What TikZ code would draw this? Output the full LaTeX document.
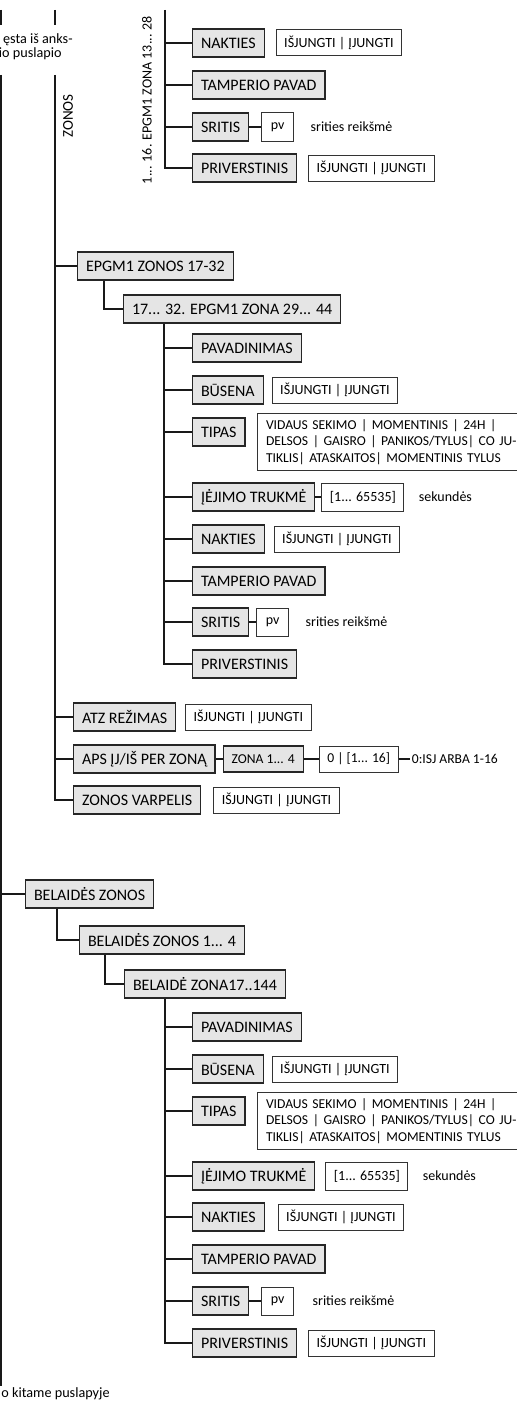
\documentclass[tikz,border=0pt]{standalone}
\usepackage{fontspec}
\setmainfont{Carlito}
\usetikzlibrary{positioning}
\newcommand\boxfnt{\fontsize{8}{9.6}\selectfont}
\newcommand\valfnt{\fontsize{7}{8.4}\selectfont}
\newcommand\optfnt{\fontsize{6.8}{8.3}\selectfont}
\newcommand\smlfnt{\fontsize{6.8}{8}\selectfont}
\newcommand\optline[1]{\makebox[121pt][s]{#1}}
\tikzset{
  menu/.style={draw=black!85,fill=black!10,line width=.6pt,minimum height=14pt,inner xsep=4.2pt,inner ysep=1pt,font=\boxfnt,anchor=west},
  val/.style={draw=black!80,line width=.5pt,minimum height=13pt,inner xsep=4pt,inner ysep=1pt,font=\valfnt,anchor=west},
  opts/.style={draw=black!80,line width=.5pt,text width=121pt,inner xsep=4.5pt,inner ysep=3pt,align=left,font=\optfnt,anchor=west},
  note/.style={inner sep=1pt,font=\valfnt},
  link/.style={line width=.65pt,draw=black!90},
}

\begin{document}
\begin{tikzpicture}[x=.5pt,y=-.5pt]
\useasboundingbox (0,0) rectangle (516,1402);
\coordinate (mTop) at (1,10);
\coordinate (mCut) at (1,25);
\coordinate (mRes) at (1,75);
\coordinate (mEnd) at (1,1386);
\coordinate (zTop) at (55,10);
\coordinate (zCut) at (55,25);
\coordinate (zRes) at (55,75);
\coordinate (aTop) at (165,10);
\node[note,anchor=east,font=\fontsize{7.1}{9}\selectfont] (contA) at (75,40) {ęsta iš anks-};
\node[note,anchor=east,font=\fontsize{7.1}{9}\selectfont] (contB) at (64,54) {io puslapio};
\node[note,anchor=base west,inner sep=0pt,font=\fontsize{7.1}{9}\selectfont] (contC) at (1,1397) {o kitame puslapyje};
\node[note,rotate=90,font=\fontsize{7.5}{9}\selectfont] (lblZon) at (68,116) {ZONOS};
\node[note,rotate=90] (lblA) at (147,100) {1... 16. EPGM1 ZONA 13... 28};

\node[menu] (nakA) at (192,43) {NAKTIES};
\node[val,right=5.5pt of nakA] (nakvA) {IŠJUNGTI | ĮJUNGTI};
\node[menu] (tamA) at (192,85) {TAMPERIO PAVAD};
\node[menu] (sriA) at (192,127) {SRITIS};
\node[val,right=6pt of sriA,minimum width=16pt,minimum height=14pt] (srivA) {pv};
\node[note,right=7pt of srivA] (sritA) {srities reikšmė};
\node[menu] (priA) at (192,168) {PRIVERSTINIS};
\node[val,right=5.5pt of priA] (privA) {IŠJUNGTI | ĮJUNGTI};

\node[menu] (epgB) at (77,266) {EPGM1 ZONOS 17-32};
\node[menu] (zonB) at (123,309) {17... 32. EPGM1 ZONA 29... 44};
\coordinate (bTop) at ([xshift=20.5pt]zonB.south west);
\node[menu] (pavB) at (192,348) {PAVADINIMAS};
\node[menu] (busB) at (192,390) {BŪSENA};
\node[val,right=4pt of busB] (busvB) {IŠJUNGTI | ĮJUNGTI};
\node[menu] (tipB) at (192,432) {TIPAS};
\node[opts,right=5.5pt of tipB,yshift=-5pt] (tipvB) {\optline{VIDAUS SEKIMO | MOMENTINIS | 24H |}\\\optline{DELSOS | GAISRO | PANIKOS/TYLUS| CO JU-}\\\optline{TIKLIS| ATASKAITOS| MOMENTINIS TYLUS}};
\node[menu] (iejB) at (192,497) {ĮĖJIMO TRUKMĖ};
\node[val,right=3pt of iejB,minimum height=14pt] (iejvB) {[1... 65535]};
\node[note,right=6pt of iejvB] (sekB) {sekundės};
\node[menu] (nakB) at (192,539) {NAKTIES};
\node[val,right=4.5pt of nakB] (nakvB) {IŠJUNGTI | ĮJUNGTI};
\node[menu] (tamB) at (192,581) {TAMPERIO PAVAD};
\node[menu] (sriB) at (192,622) {SRITIS};
\node[val,right=3.5pt of sriB,minimum width=16pt,minimum height=14pt] (srivB) {pv};
\node[note,right=7pt of srivB] (sritB) {srities reikšmė};
\node[menu] (priB) at (192,664) {PRIVERSTINIS};
\node[menu] (atzB) at (73,717) {ATZ REŽIMAS};
\node[val,right=4.5pt of atzB] (atzvB) {IŠJUNGTI | ĮJUNGTI};
\node[menu] (apsB) at (73,759) {APS ĮJ/IŠ PER ZONĄ};
\node[menu,font=\smlfnt,minimum height=13pt,right=3.5pt of apsB] (apszB) {ZONA 1... 4};
\node[val,font=\smlfnt,right=7.5pt of apszB] (apsvB) {0 | [1... 16]};
\node[note,font=\smlfnt,right=5.5pt of apsvB] (apstB) {0:ISJ ARBA 1-16};
\node[menu] (zvB) at (73,800) {ZONOS VARPELIS};
\node[val,right=6pt of zvB] (zvvB) {IŠJUNGTI | ĮJUNGTI};

\node[menu] (bzC) at (25,894) {BELAIDĖS ZONOS};
\node[menu] (bz14C) at (79,940) {BELAIDĖS ZONOS 1... 4};
\node[menu] (bz17C) at (124,984) {BELAIDĖ ZONA17..144};
\coordinate (cTop) at ([xshift=20.5pt]bz17C.south west);
\node[menu] (pavC) at (192,1027) {PAVADINIMAS};
\node[menu] (busC) at (192,1069) {BŪSENA};
\node[val,right=4pt of busC] (busvC) {IŠJUNGTI | ĮJUNGTI};
\node[menu] (tipC) at (192,1111) {TIPAS};
\node[opts,right=5.5pt of tipC,yshift=-5pt] (tipvC) {\optline{VIDAUS SEKIMO | MOMENTINIS | 24H |}\\\optline{DELSOS | GAISRO | PANIKOS/TYLUS| CO JU-}\\\optline{TIKLIS| ATASKAITOS| MOMENTINIS TYLUS}};
\node[menu] (iejC) at (192,1176) {ĮĖJIMO TRUKMĖ};
\node[val,right=5pt of iejC,minimum height=14pt] (iejvC) {[1... 65535]};
\node[note,right=6pt of iejvC] (sekC) {sekundės};
\node[menu] (nakC) at (192,1217) {NAKTIES};
\node[val,right=6.5pt of nakC] (nakvC) {IŠJUNGTI | ĮJUNGTI};
\node[menu] (tamC) at (192,1259) {TAMPERIO PAVAD};
\node[menu] (sriC) at (192,1301) {SRITIS};
\node[val,right=6pt of sriC,minimum width=16pt,minimum height=14pt] (srivC) {pv};
\node[note,right=8pt of srivC] (sritC) {srities reikšmė};
\node[menu] (priC) at (192,1343) {PRIVERSTINIS};
\node[val,right=5.5pt of priC] (privC) {IŠJUNGTI | ĮJUNGTI};

\draw[link] (mTop) -- (mCut);
\draw[link] (mRes) -- (mEnd);
\draw[link] (zTop) -- (zCut);
\draw[link] (zRes) |- (zvB.west);
\draw[link] (aTop) |- (priA.west);
\foreach \n in {nakA,tamA,sriA}{\draw[link] (aTop |- \n.west) -- (\n.west);}
\draw[link] (sriA) -- (srivA);

\foreach \n in {epgB,atzB,apsB}{\draw[link] (zRes |- \n.west) -- (\n.west);}
\draw[link] ([xshift=13.5pt]epgB.south west) |- (zonB.west);
\draw[link] (bTop) |- (priB.west);
\foreach \n in {pavB,busB,tipB,iejB,nakB,tamB,sriB}{\draw[link] (bTop |- \n.west) -- (\n.west);}
\draw[link] (iejB) -- (iejvB);
\draw[link] (sriB) -- (srivB);
\draw[link] (apsB) -- (apszB);
\draw[link] (apszB) -- (apsvB);
\draw[link] (apsvB) -- (apstB);

\draw[link] (mRes |- bzC.west) -- (bzC.west);
\draw[link] ([xshift=16pt]bzC.south west) |- (bz14C.west);
\draw[link] ([xshift=13pt]bz14C.south west) |- (bz17C.west);
\draw[link] (cTop) |- (priC.west);
\foreach \n in {pavC,busC,tipC,iejC,nakC,tamC,sriC}{\draw[link] (cTop |- \n.west) -- (\n.west);}
\draw[link] (sriC) -- (srivC);
\end{tikzpicture}
\end{document}
